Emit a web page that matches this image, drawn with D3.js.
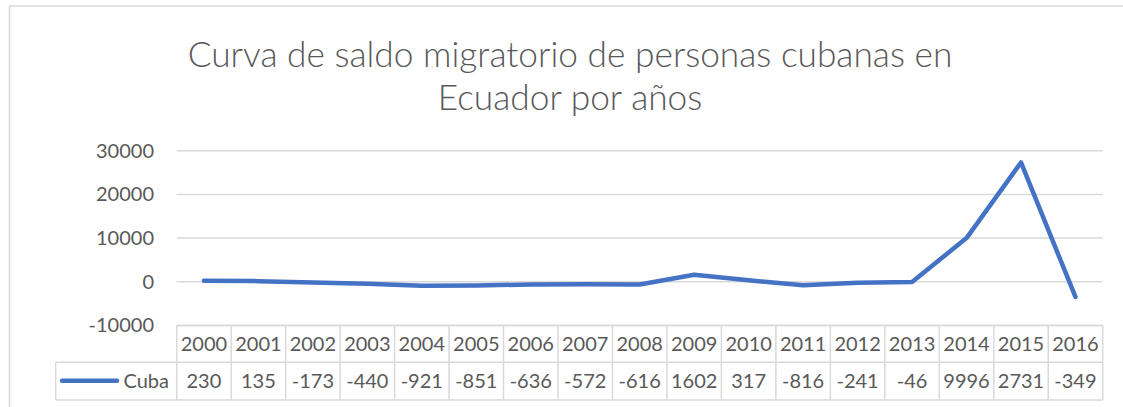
<!DOCTYPE html>
<html><head><meta charset="utf-8">
<script src="https://cdn.jsdelivr.net/npm/d3@7"></script>
<style>
html,body{margin:0;padding:0;background:#fff;}
svg{display:block;}
</style></head>
<body>
<svg id="chart" width="1123" height="407"></svg>
<script>
const titleLines = ["Curva de saldo migratorio de personas cubanas en", "Ecuador por años"];
const years = ["2000","2001","2002","2003","2004","2005","2006","2007","2008","2009","2010","2011","2012","2013","2014","2015","2016"];
const cuba = [230,135,-173,-440,-921,-851,-636,-572,-616,1602,317,-816,-241,-46,9996,27310,-3490];
const tableLabels = ["230","135","-173","-440","-921","-851","-636","-572","-616","1602","317","-816","-241","-46","9996","2731","-349"];
const yTicks = [-10000,0,10000,20000,30000];
const seriesName = "Cuba";

(function(){
const svg = d3.select("#chart");
const grey = "#595959", gridC = "#d9d9d9", lineC = "#4472C4";
const font = "Lato, 'Open Sans', sans-serif";

// outer chart border
svg.append("rect").attr("x",9.5).attr("y",6).attr("width",1300).attr("height",600)
  .attr("fill","none").attr("stroke",gridC).attr("stroke-width",1.5);

const pLeft = 176.7, pRight = 1102.7, pTop = 150.7, pBottom = 325.4;
const x = d3.scaleBand().domain(years).range([pLeft,pRight]);
const y = d3.scaleLinear().domain([-10000,30000]).range([pBottom,pTop]);

// title
const tg = svg.append("g");
const tBase = [67, 110];
titleLines.forEach((t,i)=>{
  tg.append("text").attr("x",570).attr("y",tBase[i]).attr("text-anchor","middle")
    .attr("font-family",font).attr("font-weight",300).attr("font-size",34)
    .attr("fill",grey).text(t);
});
const t0 = tg.select("text").node();
const w0 = t0.getComputedTextLength();
const fs = 34*765/w0;
tg.selectAll("text").attr("font-size",fs);

// gridlines
svg.append("g").selectAll("line").data(yTicks).join("line")
  .attr("x1",pLeft).attr("x2",pRight).attr("y1",d=>y(d)).attr("y2",d=>y(d))
  .attr("stroke",gridC).attr("stroke-width",1.5);

// y axis labels
const yAxis = d3.axisLeft(y).tickValues(yTicks).tickSize(0).tickPadding(0).tickFormat(d=>String(d));
const ya = svg.append("g").attr("transform","translate(154,0)").call(yAxis);
ya.select(".domain").remove();
ya.selectAll("text").attr("font-family",font).attr("font-size",20).attr("fill",grey);

// line
const line = d3.line().x((d,i)=>x(years[i])+x.bandwidth()/2).y(d=>y(d));
svg.append("path").datum(cuba).attr("d",line).attr("fill","none")
  .attr("stroke",lineC).attr("stroke-width",4.5).attr("stroke-linejoin","round").attr("stroke-linecap","round");

// data table
const r0 = 325.4, r1 = 362.3, r2 = 400, legL = 55.7;
const tb = svg.append("g").attr("stroke",gridC).attr("stroke-width",1.5);
tb.append("line").attr("x1",pLeft).attr("x2",pRight).attr("y1",r0).attr("y2",r0);
tb.append("line").attr("x1",legL).attr("x2",pRight).attr("y1",r1).attr("y2",r1);
tb.append("line").attr("x1",legL).attr("x2",pRight).attr("y1",r2).attr("y2",r2);
tb.append("line").attr("x1",legL).attr("x2",legL).attr("y1",r1).attr("y2",r2);
const edges = years.map(d=>x(d)).concat([pRight]);
tb.selectAll("line.v").data(edges).join("line").attr("class","v")
  .attr("x1",d=>d).attr("x2",d=>d).attr("y1",r0).attr("y2",r2);

svg.append("g").selectAll("text").data(years).join("text")
  .attr("x",d=>x(d)+x.bandwidth()/2).attr("y",351).attr("text-anchor","middle")
  .attr("font-family",font).attr("font-size",20).attr("fill",grey).text(d=>d);
svg.append("g").selectAll("text").data(tableLabels).join("text")
  .attr("x",(d,i)=>x(years[i])+x.bandwidth()/2).attr("y",388).attr("text-anchor","middle")
  .attr("font-family",font).attr("font-size",20).attr("fill",grey).text(d=>d);

// legend key
svg.append("line").attr("x1",62).attr("x2",117).attr("y1",380.7).attr("y2",380.7)
  .attr("stroke",lineC).attr("stroke-width",4.5).attr("stroke-linecap","round");
svg.append("text").attr("x",169).attr("y",388).attr("text-anchor","end")
  .attr("font-family",font).attr("font-size",20).attr("fill",grey).text(seriesName);
})();
</script>
</body></html>
